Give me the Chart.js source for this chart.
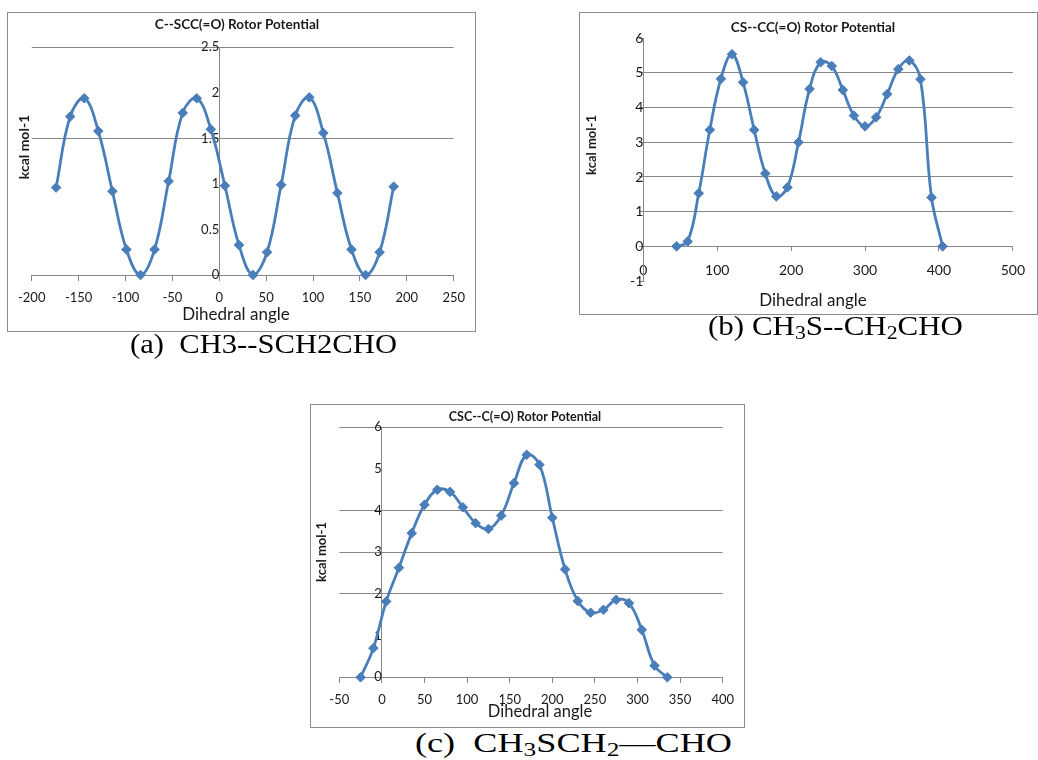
<!DOCTYPE html>
<html><head><meta charset="utf-8">
<script src="https://cdn.jsdelivr.net/npm/chart.js@4.4.1/dist/chart.umd.min.js"></script>
<style>
html,body{margin:0;padding:0;background:#fff;width:1038px;height:760px;overflow:hidden;position:relative;}
.frame{position:absolute;border:1px solid #8c8c8c;background:#fff;}
.frame canvas{position:absolute;left:0;top:0;}
.cap{position:absolute;font-family:"Liberation Serif","Times New Roman",serif;color:#000;white-space:nowrap;line-height:1;transform-origin:0 50%;}
.cap sub{font-size:70%;vertical-align:-0.22em;line-height:0;}
</style></head><body>
<div class="frame" style="left:7px;top:12px;width:467px;height:318px;"><canvas id="cA" width="467" height="318"></canvas></div>
<div class="frame" style="left:579px;top:12px;width:457px;height:301px;"><canvas id="cB" width="457" height="301"></canvas></div>
<div class="frame" style="left:310px;top:404px;width:433px;height:322px;"><canvas id="cC" width="433" height="322"></canvas></div>
<div class="cap" id="capA" style="font-size:27px;">(a)&nbsp; CH3--SCH2CHO</div>
<div class="cap" id="capB" style="font-size:27px;">(b) CH<sub>3</sub>S--CH<sub>2</sub>CHO</div>
<div class="cap" id="capC" style="font-size:28px;">(c)&nbsp; CH<sub>3</sub>SCH<sub>2</sub>—CHO</div>
<script>
// ---- data ----
const anglesA = [-174,-159,-144,-129,-114,-99,-84,-69,-54,-39,-24,-9,6,21,36,51,66,81,96,111,126,141,156,171,186];
const energyA = [0.96,1.74,1.94,1.58,0.92,0.28,0,0.28,1.03,1.78,1.94,1.6,0.98,0.33,0,0.25,0.99,1.75,1.95,1.56,0.9,0.28,0,0.25,0.97];
const xTicksA = [-200,-150,-100,-50,0,50,100,150,200,250];
const yTicksA = [0,0.5,1,1.5,2,2.5];
const gridA = [1.5,2.5];

const anglesB = [45,60,75,90,105,120,135,150,165,180,195,210,225,240,255,270,285,300,315,330,345,360,375,390,405];
const energyB = [0,0.14,1.53,3.36,4.83,5.54,4.73,3.36,2.1,1.44,1.7,3.0,4.54,5.31,5.2,4.51,3.77,3.46,3.72,4.39,5.11,5.36,4.82,1.41,0];
const xTicksB = [0,100,200,300,400,500];
const yTicksB = [-1,0,1,2,3,4,5,6];
const gridB = [1,2,3,4,5];

const anglesC = [-25,-10,5,20,35,50,65,80,95,110,125,140,155,170,185,200,215,230,245,260,275,290,305,320,335];
const energyC = [0,0.7,1.82,2.63,3.46,4.14,4.5,4.45,4.08,3.7,3.56,3.88,4.66,5.34,5.1,3.83,2.59,1.83,1.55,1.62,1.86,1.78,1.14,0.28,0];
const xTicksC = [-50,0,50,100,150,200,250,300,350,400];
const yTicksC = [0,1,2,3,4,5,6];
const gridC = [2,3,4,6];

const BLUE = '#4a7ebb';
const GRAY = '#878787';
const TXT = '#1a1a1a';

function textPlugin(items){
  return {id:'texts', afterDraw(chart){
    const ctx = chart.ctx;
    items.forEach(t=>{
      ctx.save();
      ctx.font = t.font; ctx.fillStyle = TXT; ctx.textAlign='center'; ctx.textBaseline='middle';
      ctx.translate(t.x, t.y); if (t.rot) ctx.rotate(t.rot);
      ctx.fillText(t.text, 0, 0);
      ctx.restore();
    });
  }};
}

function makeChart(id, xs, ys, o){
  const pts = xs.map((x,i)=>({x:x, y:ys[i]}));
  return new Chart(document.getElementById(id), {
    type:'line',
    data:{datasets:[{data:pts, borderColor:BLUE, backgroundColor:BLUE, borderWidth:2.8, tension:0.4,
      pointStyle:'rectRot', pointRadius:4.8, pointHoverRadius:4.8, pointBackgroundColor:BLUE,
      pointBorderColor:BLUE, pointBorderWidth:1, fill:false, clip:false}]},
    options:{
      responsive:false, animation:false, devicePixelRatio:1, events:[],
      layout:{padding:o.padding},
      plugins:{legend:{display:false}, tooltip:{enabled:false}, title:{display:false}},
      scales:{
        x:{type:'linear', position:{y:0}, min:o.xTicks[0], max:o.xTicks[o.xTicks.length-1],
          afterBuildTicks:s=>{s.ticks=o.xTicks.map(v=>({value:v}));},
          afterFit:s=>{s.height=0;},
          grid:{drawOnChartArea:false, drawTicks:true, tickLength:o.xTickLen, tickColor:GRAY, tickWidth:1},
          border:{display:true, color:GRAY, width:1},
          ticks:{autoSkip:false, maxRotation:0, padding:o.xPad, color:TXT, callback:v=>String(v),
            font:{family:'Lato', size:o.tickSize}}},
        y:{type:'linear', position:{x:o.yAxisAt}, min:o.yTicks[0], max:o.yTicks[o.yTicks.length-1],
          afterBuildTicks:s=>{s.ticks=o.yTicks.map(v=>({value:v}));},
          afterFit:s=>{s.width=0;},
          grid:{color:c=>(c.tick && o.grid.includes(c.tick.value)) ? GRAY : 'rgba(0,0,0,0)',
            lineWidth:1, drawTicks:o.yTickLen>0, tickLength:o.yTickLen, tickColor:GRAY},
          border:{display:true, color:GRAY, width:1},
          ticks:{autoSkip:false, padding:o.yPad, color:TXT, callback:v=>String(v),
            font:{family:'Lato', size:o.tickSize}}}
      }
    },
    plugins:[textPlugin(o.texts)]
  });
}

makeChart('cA', anglesA, energyA, {
  xTicks:xTicksA, yTicks:yTicksA, grid:gridA, yAxisAt:0,
  padding:{left:23.7, right:17.7, top:34.3, bottom:56},
  xTickLen:5, xPad:10, yTickLen:0, yPad:12, tickSize:13,
  texts:[
    {text:'C--SCC(=O) Rotor Potential', x:229, y:12, font:'bold 13.5px Lato'},
    {text:'kcal mol-1', x:16, y:134, rot:-Math.PI/2, font:'bold 14px Lato'},
    {text:'Dihedral angle', x:228, y:302, font:'17px Lato'}
  ]
});
makeChart('cB', anglesB, energyB, {
  xTicks:xTicksB, yTicks:yTicksB, grid:gridB, yAxisAt:0,
  padding:{left:63.3, right:15.3, top:25.3, bottom:33},
  xTickLen:4, xPad:12, yTickLen:4, yPad:7, tickSize:14,
  texts:[
    {text:'CS--CC(=O) Rotor Potential', x:233, y:15, font:'bold 13.5px Lato'},
    {text:'kcal mol-1', x:12, y:132, rot:-Math.PI/2, font:'bold 13px Lato'},
    {text:'Dihedral angle', x:233, y:288, font:'17px Lato'}
  ]
});
makeChart('cC', anglesC, energyC, {
  xTicks:xTicksC, yTicks:yTicksC, grid:gridC, yAxisAt:0,
  padding:{left:28.3, right:15, top:22.3, bottom:49.7},
  xTickLen:5, xPad:10, yTickLen:0, yPad:11, tickSize:13,
  texts:[
    {text:'CSC--C(=O) Rotor Potential', x:214, y:12, font:'bold 12.5px Lato'},
    {text:'kcal mol-1', x:11, y:147, rot:-Math.PI/2, font:'bold 13px Lato'},
    {text:'Dihedral angle', x:229, y:307, font:'16.5px Lato'}
  ]
});

// captions
const caps = [
  {id:'capA', left:130, width:267, center:347},
  {id:'capB', left:708, width:255, center:329},
  {id:'capC', left:415, width:317, center:745}
];
caps.forEach(c=>{
  const el = document.getElementById(c.id);
  const w = el.getBoundingClientRect().width;
  const fs = parseFloat(el.style.fontSize);
  el.style.left = c.left+'px';
  el.style.top = (c.center - 0.58*fs)+'px';
  el.style.transform = 'scaleX('+(c.width/w)+')';
});
</script>
</body></html>
